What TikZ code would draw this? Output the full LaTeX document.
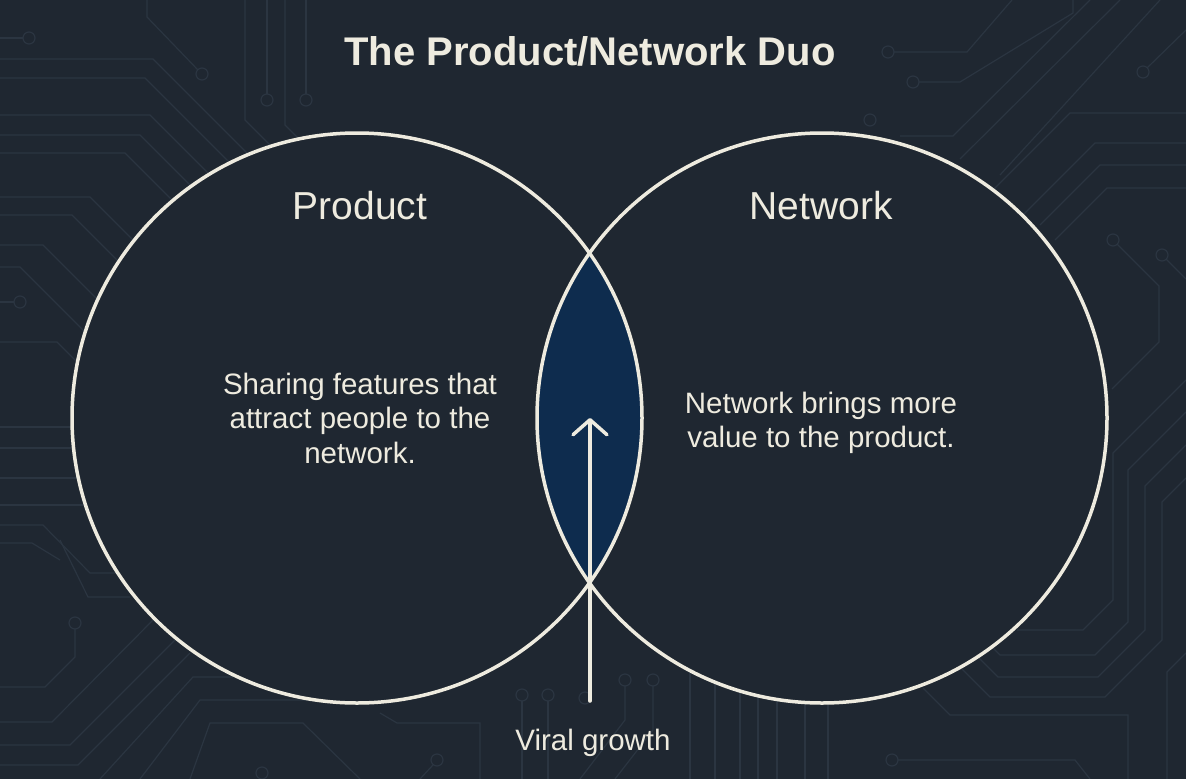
\documentclass[tikz,border=0pt]{standalone}
\usepackage{fontspec}
\setmainfont{Liberation Sans}
\usetikzlibrary{arrows.meta}

\definecolor{board}{HTML}{1F2731}
\definecolor{copper}{HTML}{2B3541}
\definecolor{cream}{HTML}{EEEBDF}
\definecolor{deepblue}{HTML}{0E2C4E}

\begin{document}
\begin{tikzpicture}[
    x = 1pt,
    y = -1pt,
    trace/.style = {
      draw = copper,
      line width = 1.2pt
    },
    ring/.style = {
      draw = cream,
      circle,
      line width = 3.5pt,
      inner sep = 0pt,
      minimum size = 570pt
    },
    headline/.style = {
      anchor = base,
      text = cream,
      font = \fontsize{40}{48}\selectfont\bfseries
    },
    setname/.style = {
      anchor = base,
      text = cream,
      font = \fontsize{39}{46}\selectfont
    },
    blurb/.style = {
      align = center,
      text = cream,
      font = \fontsize{29.5}{34.5}\selectfont
    },
    growth/.style = {
      draw = cream,
      line width = 3.5pt,
      line cap = round,
      -{Straight Barb[length=15pt,width=34pt,round]}
    }
  ]
\useasboundingbox (0,0) rectangle (1186,779);
\fill[board] (0,0) rectangle (1186,779);

% circuit board
\draw[trace] (0,38) -- (23,38);
\draw[trace] (29,38) circle (6pt);
\draw[trace] (0,59) -- (153,59) -- (250,156);
\draw[trace] (0,78) -- (145,78) -- (240,173);
\draw[trace] (0,115) -- (150,115) -- (215,180);
\draw[trace] (0,135) -- (140,135) -- (200,195);
\draw[trace] (0,153) -- (125,153) -- (185,213);
\draw[trace] (0,197) -- (90,197) -- (185,292);
\draw[trace] (0,215) -- (72,215) -- (160,303);
\draw[trace] (0,245) -- (43,245) -- (110,312);
\draw[trace] (0,267) -- (20,267) -- (90,337);
\draw[trace] (147,0) -- (147,17) -- (198,70);
\draw[trace] (202,74) circle (6pt);
\draw[trace] (245,0) -- (245,120) -- (290,165);
\draw[trace] (267,0) -- (267,94);
\draw[trace] (267,100) circle (6pt);
\draw[trace] (285,0) -- (285,125) -- (310,150);
\draw[trace] (306,0) -- (306,94);
\draw[trace] (306,100) circle (6pt);

\draw[trace] (888,52) circle (6pt);
\draw[trace] (894,52) -- (967,52) -- (1012,0);
\draw[trace] (913,82) circle (6pt);
\draw[trace] (919,82) -- (960,82) -- (1073,13) -- (1073,0);
\draw[trace] (870,120) circle (6pt);
\draw[trace] (900,136) -- (953,136) -- (1090,0);
\draw[trace] (960,159) -- (1120,0);
\draw[trace] (1000,175) -- (1160,0);
\draw[trace] (1143,72) circle (6pt);
\draw[trace] (1147,68) -- (1186,30);
\draw[trace] (1186,113) -- (1070,113) -- (990,193);
\draw[trace] (1186,143) -- (1095,143) -- (1020,218);
\draw[trace] (1186,165) -- (1100,165) -- (1040,225);
\draw[trace] (1186,188) -- (1107,188) -- (1055,240);
\draw[trace] (1113,240) circle (6pt);
\draw[trace] (1117,244) -- (1159,286) -- (1159,342) -- (1112,389);
\draw[trace] (1162,255) circle (6pt);
\draw[trace] (1166,259) -- (1186,279);

\draw[trace] (0,302) -- (14,302);
\draw[trace] (20,302) circle (6pt);
\draw[trace] (0,342) -- (57,342) -- (80,365);
\draw[trace] (0,427) -- (80,427);
\draw[trace] (0,448) -- (80,448);
\draw[trace] (0,478) -- (85,478);
\draw[trace] (0,505) -- (90,505);
\draw[trace] (0,525) -- (43,525) -- (90,573) -- (130,573);
\draw[trace] (0,543) -- (32,543) -- (60,560);
\draw[trace] (60,540) -- (88,597) -- (130,597);
\draw[trace] (75,623) circle (6pt);
\draw[trace] (75,629) -- (75,657) -- (45,687) -- (0,687);
\draw[trace] (0,722) -- (52,722) -- (153,620);
\draw[trace] (0,745) -- (70,745) -- (175,640);
\draw[trace] (0,765) -- (78,765) -- (190,653);
\draw[trace] (100,779) -- (193,677) -- (233,677);
\draw[trace] (140,779) -- (200,700) -- (367,700);
\draw[trace] (190,779) -- (210,723) -- (303,723) -- (360,779);
\draw[trace] (262,773) circle (6pt);
\draw[trace] (380,713) -- (397,723) -- (480,723) -- (480,779);
\draw[trace] (437,760) circle (6pt);
\draw[trace] (433,765) -- (420,779);

\draw[trace] (522,695) circle (6pt);
\draw[trace] (522,701) -- (522,779);
\draw[trace] (548,695) circle (6pt);
\draw[trace] (548,701) -- (548,779);
\draw[trace] (585,698) circle (6pt);
\draw[trace] (625,680) circle (6pt);
\draw[trace] (625,686) -- (625,720) -- (580,779);
\draw[trace] (653,680) circle (6pt);
\draw[trace] (653,686) -- (653,730) -- (615,779);
\draw[trace] (690,660) -- (690,779);
\draw[trace] (715,660) -- (715,779);
\draw[trace] (740,660) -- (740,779);
\draw[trace] (758,660) -- (758,779);
\draw[trace] (777,660) -- (777,779);
\draw[trace] (805,690) -- (805,779);
\draw[trace] (828,690) -- (828,779);

\draw[trace] (1186,380) -- (1113,453) -- (1113,600) -- (1083,630) -- (1017,630);
\draw[trace] (1186,412) -- (1128,470) -- (1128,622) -- (1095,655) -- (1000,655) -- (982,637);
\draw[trace] (1186,445) -- (1145,486) -- (1145,630) -- (1098,677) -- (998,677) -- (978,657);
\draw[trace] (1186,478) -- (1162,502) -- (1162,640) -- (1105,697) -- (990,697) -- (962,669);
\draw[trace] (1128,779) -- (1128,715) -- (950,715) -- (923,688);
\draw[trace] (892,760) circle (6pt);
\draw[trace] (898,760) -- (1075,760) -- (1090,779);
\draw[trace] (1186,653) -- (1167,672) -- (1167,779);

% sets
\coordinate (pcentre) at (357,418);
\coordinate (ncentre) at (822,418);
\fill[board] (pcentre) circle (285pt) (ncentre) circle (285pt);
\begin{scope}
  \clip (pcentre) circle (285pt);
  \fill[deepblue] (ncentre) circle (285pt);
\end{scope}
\node[ring] (product) at (pcentre) {};
\node[ring] (network) at (ncentre) {};

% labels
\node[headline] (title) at (590,65) {The Product/Network Duo};
\node[setname] (productname) at (360,219) {Product};
\node[setname] (networkname) at (821,219) {Network};
\node[blurb] (productnote) at (360,418) {Sharing features that\\attract people to the\\network.};
\node[blurb] (networknote) at (821,423) {Network brings more\\value to the product.};
\node[blurb, anchor = base] (viral) at (593,750) {Viral growth};

% arrow
\coordinate (arrowfoot) at (590,701);
\coordinate (arrowtip) at (590,418);
\draw[growth] (arrowfoot) -- (arrowtip);

\end{tikzpicture}
\end{document}
